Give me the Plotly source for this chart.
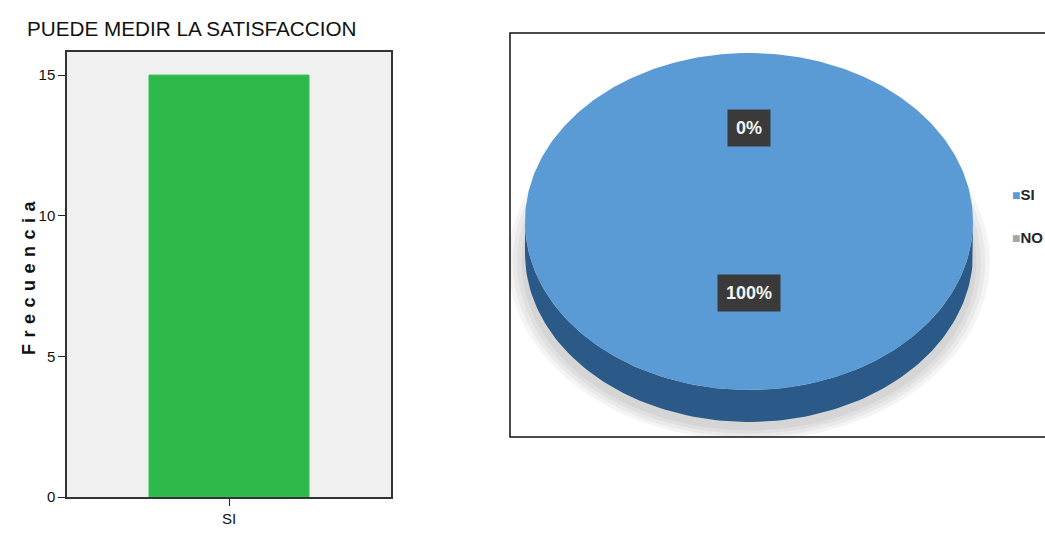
import numpy as np
import plotly.graph_objects as go

# ---- data -------------------------------------------------------------
categories = ["SI"]
frecuencia = [15]
y_ticks = [0, 5, 10, 15]

pie_labels = ["SI", "NO"]
pie_values = [15, 0]
pie_colors = ["#5B9BD5", "#A5A5A5"]
pie_side_colors = ["#2B5A88", "#6E6E6E"]

# ---- page geometry (pixels) ------------------------------------------
W, H = 1045, 533


def fx(p):
    return p / W


def fy(p):
    return 1 - p / H


SANS = "Liberation Sans, Arial, sans-serif"

fig = go.Figure()

# ---- left: bar chart --------------------------------------------------
fig.add_trace(go.Bar(
    x=categories, y=frecuencia, width=0.494,
    marker=dict(color="#2DB84B", line=dict(color="#3CC45A", width=1)),
    xaxis="x", yaxis="y", showlegend=False, hoverinfo="x+y",
))

# ---- right: tilted (3-D style) pie -----------------------------------
# ellipse centre / semi-axes / depth (pixels) used to size the pie axes
CX, CY, RX, RY = 749, 221.5, 224, 168.5
BOX = (510, 33, 1045, 437)
DEPTH = 32 / RY
START = 90.0  # first slice starts at 12 o'clock, drawn clockwise

total = float(sum(pie_values))
spans = [v / total * 360.0 for v in pie_values]


def ellipse(cx, cy, rx, ry, n=240):
    t = np.linspace(0, 2 * np.pi, n)
    return cx + rx * np.cos(t), cy + ry * np.sin(t)


# soft drop shadow under the pie
for s in [1.075, 1.055, 1.035, 1.015]:
    sx, sy = ellipse(0.0, -DEPTH - 0.05, s, s * 0.985)
    fig.add_trace(go.Scatter(
        x=sx, y=sy, mode="lines", fill="toself",
        fillcolor="rgba(60,60,60,0.055)", line=dict(width=0),
        xaxis="x2", yaxis="y2", showlegend=False, hoverinfo="skip",
    ))

# visible side wall (lower half of the rim) for each slice
angle = START
for lab, span, scol in zip(pie_labels, spans, pie_side_colors):
    hi, lo = angle, angle - span
    angle = lo
    if span <= 0:
        continue
    for k in (-1, 0, 1):
        a0, a1 = max(lo, -180 + 360 * k), min(hi, 360 * k)
        if a1 <= a0:
            continue
        t = np.radians(np.linspace(a0, a1, 120))
        xs = np.concatenate([np.cos(t), np.cos(t[::-1])])
        ys = np.concatenate([np.sin(t), np.sin(t[::-1]) - DEPTH])
        fig.add_trace(go.Scatter(
            x=xs, y=ys, mode="lines", fill="toself", fillcolor=scol,
            line=dict(width=0), xaxis="x2", yaxis="y2",
            showlegend=False, hoverinfo="skip",
        ))

# top faces of the slices
angle = START
mids = []
for lab, span, col in zip(pie_labels, spans, pie_colors):
    hi, lo = angle, angle - span
    mids.append((hi + lo) / 2.0)
    angle = lo
    if span <= 0:
        continue
    t = np.radians(np.linspace(hi, lo, 360))
    xs = np.concatenate([[0.0], np.cos(t), [0.0]])
    ys = np.concatenate([[0.0], np.sin(t), [0.0]])
    fig.add_trace(go.Scatter(
        x=xs, y=ys, mode="lines", fill="toself", fillcolor=col,
        line=dict(width=0), xaxis="x2", yaxis="y2", name=lab,
        showlegend=False, hoverinfo="name",
    ))

# percentage labels at the middle of each slice
LABEL_R, LABEL_LIFT = 0.49, 0.065
annotations = []
for lab, v, m in zip(pie_labels, pie_values, mids):
    pct = round(v / total * 100)
    annotations.append(dict(
        x=LABEL_R * np.cos(np.radians(m)),
        y=LABEL_R * np.sin(np.radians(m)) + LABEL_LIFT,
        xref="x2", yref="y2", text=f"<b>{pct}%</b>", showarrow=False,
        font=dict(family=SANS, size=18, color="#F4F4F4"),
        bgcolor="#3A3A3A", borderpad=8,
    ))

# legend entries beside the pie
for i, (lab, col) in enumerate(zip(pie_labels, pie_colors)):
    annotations.append(dict(
        x=fx(1010), y=fy(194 + 43 * i), xref="paper", yref="paper",
        xanchor="left", yanchor="middle", showarrow=False,
        text=f'<span style="color:{col};font-size:14px">■</span><b>{lab}</b>',
        font=dict(family=SANS, size=15, color="#262626"),
    ))

# y axis title of the bar chart
annotations.append(dict(
    x=fx(17), y=fy(275), xref="paper", yref="paper", textangle=-90,
    text='<span style="letter-spacing:6.5px">Frecuencia</span>',
    showarrow=False,
    font=dict(family=SANS, size=18, color="#111", weight="bold"),
))

fig.update_layout(
    width=W, height=H, margin=dict(l=0, r=0, t=0, b=0, autoexpand=False),
    paper_bgcolor="white", plot_bgcolor="white",
    title=dict(
        text="PUEDE MEDIR LA SATISFACCION", x=fx(27), xanchor="left",
        y=fy(29), yanchor="middle", xref="paper", yref="paper",
        font=dict(family=SANS, size=20.7, color="#111"),
    ),
    xaxis=dict(
        domain=[fx(67), fx(391)], range=[-0.5, 0.5], type="category",
        showline=True, mirror=True, linecolor="#333", linewidth=1.5,
        ticks="outside", ticklen=7, tickcolor="#222", showgrid=False,
        tickfont=dict(family=SANS, size=15, color="#111"),
        fixedrange=True, automargin=False,
    ),
    yaxis=dict(
        domain=[fy(497), fy(52)], range=[0, 15.82], tickvals=y_ticks,
        showline=True, mirror=True, linecolor="#333", linewidth=1.5,
        ticks="outside", ticklen=7, tickcolor="#222", showgrid=False,
        zeroline=False, tickfont=dict(family=SANS, size=15, color="#111"),
        fixedrange=True, automargin=False,
    ),
    xaxis2=dict(
        domain=[fx(BOX[0]), 1.0],
        range=[(BOX[0] - CX) / RX, (BOX[2] - CX) / RX],
        visible=False, fixedrange=True, automargin=False,
    ),
    yaxis2=dict(
        domain=[fy(BOX[3]), fy(BOX[1])],
        range=[(CY - BOX[3]) / RY, (CY - BOX[1]) / RY],
        visible=False, fixedrange=True, automargin=False,
    ),
    shapes=[
        # grey plotting area of the bar chart
        dict(type="rect", xref="x domain", yref="y domain",
             x0=0, x1=1, y0=0, y1=1, fillcolor="#F0F0F0",
             line=dict(width=0), layer="below"),
        # frame around the pie chart
        dict(type="rect", xref="paper", yref="paper",
             x0=fx(BOX[0]), x1=1.02, y0=fy(BOX[3]), y1=fy(BOX[1]),
             line=dict(color="#111", width=1.5), layer="below"),
    ],
    annotations=annotations,
    showlegend=False,
)

fig.write_html("out.html")
